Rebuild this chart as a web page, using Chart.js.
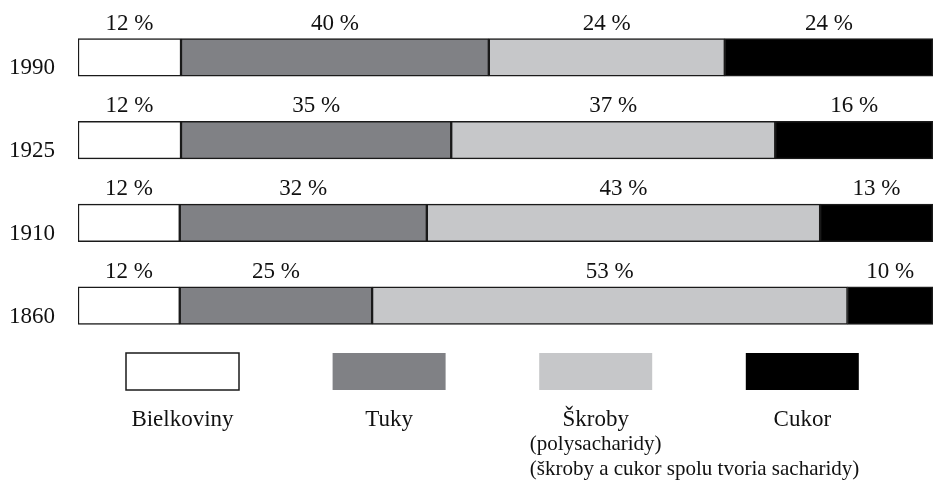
<!DOCTYPE html>
<html>
<head>
<meta charset="utf-8">
<script src="https://cdn.jsdelivr.net/npm/chart.js@4/dist/chart.umd.min.js"></script>
<style>
  body { margin: 0; background: #fff; }
  #wrap { width: 933px; height: 480px; }
</style>
</head>
<body>
<div id="wrap"><canvas id="foodChart" width="933" height="480"></canvas></div>
<script>
// Years (rows, top to bottom)
const years = ['1990', '1925', '1910', '1860'];

// Segment widths as drawn in the picture (share of the bar)
const bielkoviny = [12.05, 12.05, 11.9, 11.9];
const tuky = [36.0, 31.6, 28.9, 22.5];
const skroby = [27.6, 37.9, 46.0, 55.6];
const cukor = [24.35, 18.45, 13.2, 10.0];

// Printed percentages above the segments
const bielkovinyPct = [12, 12, 12, 12];
const tukyPct = [40, 35, 32, 25];
const skrobyPct = [24, 37, 43, 53];
const cukorPct = [24, 16, 13, 10];

const seriesNames = ['Bielkoviny', 'Tuky', 'Škroby', 'Cukor'];
const seriesNotes = ['', '', '(polysacharidy)', ''];
const footNote = '(škroby a cukor spolu tvoria sacharidy)';

const serif = '"Liberation Serif", "Times New Roman", serif';
const colors = ['#ffffff', '#808185', '#c6c7c9', '#000000'];

// Draw the percentages above each segment
const pctLabels = {
    id: 'pctLabels',
    afterDatasetsDraw(chart) {
        const ctx = chart.ctx;
        ctx.save();
        ctx.font = '23px ' + serif;
        ctx.fillStyle = '#111';
        ctx.textAlign = 'center';
        ctx.textBaseline = 'alphabetic';
        chart.data.datasets.forEach((ds, i) => {
            const meta = chart.getDatasetMeta(i);
            meta.data.forEach((bar, j) => {
                const cx = (bar.x + bar.base) / 2;
                const top = bar.y - bar.height / 2;
                ctx.fillText(ds.pct[j] + ' %', cx, top - 9);
            });
        });
        ctx.restore();
    }
};

// Legend boxes and names under the bars
const boxLegend = {
    id: 'boxLegend',
    afterDraw(chart) {
        const ctx = chart.ctx;
        const boxW = 113, boxH = 37, boxTop = 353;
        ctx.save();
        chart.data.datasets.forEach((ds, i) => {
            const cx = 182.5 + i * 206.6;
            ctx.fillStyle = ds.backgroundColor;
            ctx.fillRect(cx - boxW / 2, boxTop, boxW, boxH);
            if (i === 0) {
                ctx.strokeStyle = '#1a1a1a';
                ctx.lineWidth = 1.5;
                ctx.strokeRect(cx - boxW / 2, boxTop, boxW, boxH);
            }
            ctx.fillStyle = '#111';
            ctx.font = '23px ' + serif;
            ctx.textAlign = 'center';
            ctx.textBaseline = 'alphabetic';
            ctx.fillText(ds.label, cx, 426);
            if (seriesNotes[i]) {
                ctx.font = '21px ' + serif;
                const w = ctx.measureText(seriesNotes[i]).width;
                ctx.textAlign = 'left';
                ctx.fillText(seriesNotes[i], cx - w / 2, 450);
                ctx.fillText(footNote, cx - w / 2, 475);
            }
        });
        ctx.restore();
    }
};

const datasets = [bielkoviny, tuky, skroby, cukor].map((values, i) => ({
    label: seriesNames[i],
    data: values,
    pct: [bielkovinyPct, tukyPct, skrobyPct, cukorPct][i],
    backgroundColor: colors[i],
    borderColor: '#1a1a1a',
    borderWidth: 1.5,
    borderSkipped: false,
    barThickness: 37.5
}));

const ctx = document.getElementById('foodChart').getContext('2d');
const foodChart = new Chart(ctx, {
    type: 'bar',
    data: {
        labels: years,
        datasets: datasets
    },
    options: {
        indexAxis: 'y',
        responsive: false,
        animation: false,
        layout: {
            padding: { top: 16, bottom: 133, left: 0, right: 0 }
        },
        plugins: {
            legend: { display: false },
            tooltip: { enabled: false }
        },
        scales: {
            x: {
                stacked: true,
                min: 0,
                max: 100,
                display: false
            },
            y: {
                stacked: true,
                grid: { display: false, drawTicks: false },
                border: { display: false },
                ticks: {
                    color: '#111',
                    font: { family: serif, size: 23 },
                    padding: 23,
                    labelOffset: 11
                },
                afterFit(scale) {
                    scale.width = 78;
                    scale.paddingTop = 0;
                    scale.paddingBottom = 0;
                }
            }
        }
    },
    plugins: [pctLabels, boxLegend]
});
</script>
</body>
</html>
